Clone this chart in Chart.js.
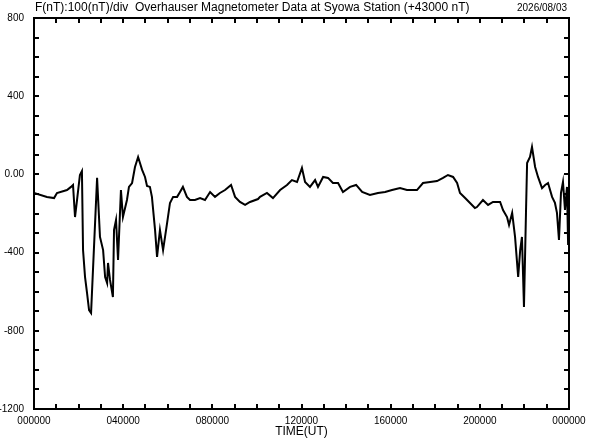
<!DOCTYPE html>
<html>
<head>
<meta charset="utf-8">
<script src="https://cdn.jsdelivr.net/npm/chart.js@4"></script>
<style>
  html, body { margin: 0; padding: 0; background: #fff; }
  #wrap { width: 592px; height: 440px; }
</style>
</head>
<body>
<div id="wrap"><canvas id="magChart" width="592" height="440"></canvas></div>
<script>
// time of day in hours (UT)
const hours = [
  0.00, 0.58, 0.90, 1.03, 1.48, 1.66, 1.75, 1.84, 1.93, 2.06, 2.15, 2.20, 2.29, 2.38, 2.47, 2.56,
  2.83, 2.96, 3.10, 3.19, 3.28, 3.32, 3.41, 3.54, 3.59, 3.68, 3.77, 3.90, 3.99, 4.17, 4.26, 4.40,
  4.53, 4.67, 4.85, 4.98, 5.07, 5.20, 5.29, 5.43, 5.52, 5.65, 5.79, 5.97, 6.10, 6.24, 6.42, 6.55,
  6.68, 6.86, 7.00, 7.22, 7.45, 7.67, 7.90, 8.12, 8.34, 8.57, 8.84, 9.02, 9.24, 9.47, 9.69, 10.05,
  10.14, 10.45, 10.72, 11.04, 11.35, 11.57, 11.80, 12.02, 12.16, 12.38, 12.61, 12.74, 12.97, 13.19,
  13.41, 13.64, 13.86, 14.18, 14.45, 14.72, 15.07, 15.43, 15.75, 16.06, 16.42, 16.73, 17.18, 17.45,
  17.77, 18.08, 18.35, 18.57, 18.80, 18.98, 19.11, 19.34, 19.56, 19.78, 19.87, 20.14, 20.37, 20.59,
  20.91, 21.04, 21.22, 21.31, 21.45, 21.58, 21.72, 21.81, 21.89, 21.98, 22.07, 22.12, 22.25, 22.34,
  22.48, 22.61, 22.79, 22.93, 23.06, 23.24, 23.37, 23.46, 23.55, 23.64, 23.73, 23.82, 23.91, 23.96
];

// F minus 43000 nT
const fValues = [
  -95, -116, -121, -95, -80, -64, -54, -218, -131, -3, 17, -387, -525, -607, -694, -709,
  -18, -320, -387, -525, -556, -453, -540, -627, -284, -233, -438, -80, -218, -131, -64, -44,
  38, 89, 23, -13, -59, -64, -115, -284, -422, -284, -387, -249, -146, -115, -115, -90,
  -64, -115, -131, -131, -121, -131, -90, -115, -95, -80, -54, -115, -141, -156, -141, -126,
  -115, -95, -121, -80, -54, -29, -39, 33, -39, -64, -29, -64, -13, -18,
  -44, -44, -90, -64, -54, -90, -105, -95, -90, -80, -70, -80, -80, -44,
  -39, -34, -18, -3, -13, -44, -95, -121, -146, -172, -167, -131, -156, -141,
  -141, -182, -218, -259, -197, -320, -525, -387, -320, -678, -197, 58, 89, 140,
  38, -13, -70, -54, -44, -115, -146, -197, -335, -95, -39, -182, -64, -361
];

const yTickLabels = { 800: '800', 400: '400', 0: '0.00', '-400': '-400', '-800': '-800', '-1200': '-1200' };
const xTickLabels = ['000000', '040000', '080000', '120000', '160000', '200000', '000000'];

const titleText = 'F(nT):100(nT)/div  Overhauser Magnetometer Data at Syowa Station (+43000 nT)';
const dateText = '2026/08/03';

const FONT = '"Liberation Sans", Arial, sans-serif';

// frame, inward ticks and header text
const framePlugin = {
  id: 'frame',
  afterDraw(chart) {
    const ctx = chart.ctx;
    const a = chart.chartArea;
    const xs = chart.scales.x;
    const ys = chart.scales.y;
    ctx.save();
    ctx.strokeStyle = '#000';
    ctx.lineWidth = 2;
    ctx.strokeRect(a.left, a.top, a.right - a.left, a.bottom - a.top);

    ctx.beginPath();
    for (let h = 1; h < 24; h++) {
      const px = Math.round(xs.getPixelForValue(h));
      ctx.moveTo(px, a.top); ctx.lineTo(px, a.top + 5);
      ctx.moveTo(px, a.bottom); ctx.lineTo(px, a.bottom - 5);
    }
    for (let v = -1100; v < 800; v += 100) {
      const py = Math.round(ys.getPixelForValue(v));
      ctx.moveTo(a.left, py); ctx.lineTo(a.left + 5, py);
      ctx.moveTo(a.right, py); ctx.lineTo(a.right - 5, py);
    }
    ctx.stroke();

    ctx.fillStyle = '#000';
    ctx.textBaseline = 'middle';
    ctx.font = '12px ' + FONT;
    ctx.textAlign = 'left';
    ctx.fillText(titleText, a.left + 1, 8);
    ctx.font = '10px ' + FONT;
    ctx.textAlign = 'right';
    ctx.fillText(dateText, a.right - 2, 8);
    ctx.font = '12px ' + FONT;
    ctx.textAlign = 'center';
    ctx.fillText('TIME(UT)', (a.left + a.right) / 2, 432);
    ctx.restore();
  }
};

new Chart(document.getElementById('magChart').getContext('2d'), {
  type: 'line',
  data: {
    datasets: [{
      label: 'F',
      data: hours.map((h, i) => ({ x: h, y: fValues[i] })),
      borderColor: '#000',
      borderWidth: 2,
      pointRadius: 0,
      tension: 0,
      fill: false
    }]
  },
  options: {
    responsive: false,
    animation: false,
    layout: { padding: { top: 18, right: 23, left: 0, bottom: 0 } },
    plugins: { legend: { display: false }, tooltip: { enabled: false } },
    scales: {
      x: {
        type: 'linear',
        min: 0,
        max: 24,
        afterFit(scale) { scale.height = 31; },
        afterBuildTicks(scale) {
          scale.ticks = xTickLabels.map((t, i) => ({ value: i * 4 }));
        },
        grid: { display: false },
        border: { display: false },
        ticks: {
          autoSkip: false,
          maxRotation: 0,
          padding: -2,
          color: '#000',
          font: { family: FONT, size: 10 },
          callback: (v) => xTickLabels[v / 4]
        }
      },
      y: {
        min: -1200,
        max: 800,
        afterFit(scale) { scale.width = 34; },
        afterBuildTicks(scale) {
          scale.ticks = Object.keys(yTickLabels).map(Number).sort((p, q) => q - p).map(v => ({ value: v }));
        },
        grid: { display: false },
        border: { display: false },
        ticks: {
          autoSkip: false,
          padding: 2,
          color: '#000',
          font: { family: FONT, size: 10 },
          callback: (v) => yTickLabels[v]
        }
      }
    }
  },
  plugins: [framePlugin]
});
</script>
</body>
</html>
